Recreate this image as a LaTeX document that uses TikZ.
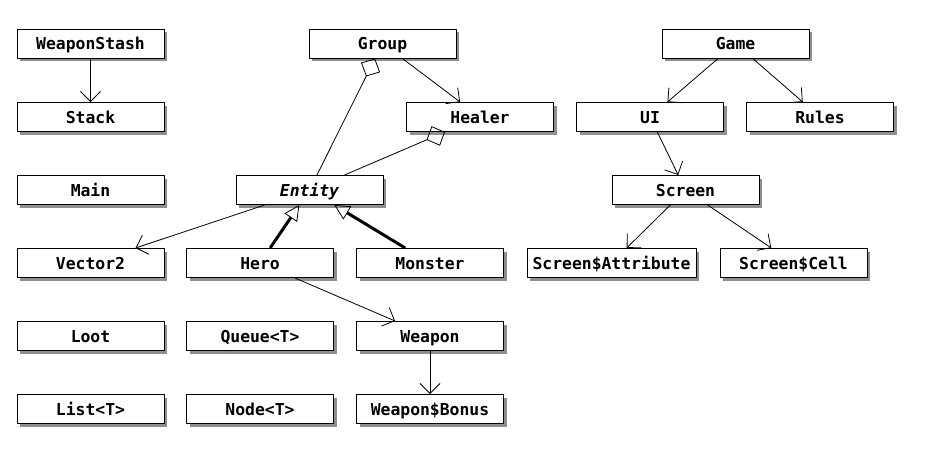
\documentclass[tikz,border=0pt]{standalone}
\usepackage{fontspec}
\setmonofont{DejaVu Sans Mono}
\usetikzlibrary{arrows.meta,shadows}
\tikzset{
  box/.style={draw, fill=white, line width=0.75pt, minimum width=110.25pt, minimum height=21.75pt, inner sep=0pt,
    text height=9pt, text depth=0pt,
    font=\fontsize{12.3}{14}\selectfont\ttfamily\bfseries,
    drop shadow={shadow xshift=2.25pt, shadow yshift=-2.25pt, fill=black!55, opacity=0.8}},
  dep/.style={line width=0.6pt, -{Straight Barb[length=7.5pt,width=15pt,line width=0.6pt]}},
  agg/.style={line width=0.6pt, -{Diamond[open,length=15pt,width=16pt,line width=0.6pt]}},
  gen/.style={line width=2.25pt, -{Triangle[open,length=11.5pt,width=11.5pt,line width=0.6pt]}},
}
\begin{document}
\begin{tikzpicture}[x=0.75pt, y=0.75pt, line join=round]
\useasboundingbox (0,0) rectangle (929,-450);
% left column
\foreach \n/\t/\y in {weaponstash/WeaponStash/43.5, stack/Stack/117, main/Main/190, vector/Vector2/263, loot/Loot/336, list/List<T>/409}
  \node[box] (\n) at (90.5,-\y) {\t};
% middle
\node[box] (group) at (382.5,-43.5) {Group};
\node[box] (healer) at (480,-117) {Healer};
\node[box] (entity) at (309.5,-190) {\itshape Entity};
\foreach \n/\t/\y in {hero/Hero/263, queue/Queue<T>/336, nodeT/Node<T>/409}
  \node[box] (\n) at (260,-\y) {\t};
\foreach \n/\t/\y in {monster/Monster/263, weapon/Weapon/336, bonus/Weapon\$Bonus/409}
  \node[box] (\n) at (430,-\y) {\t};
% right
\node[box] (game) at (735.5,-43.5) {Game};
\node[box] (ui) at (650,-117) {UI};
\node[box] (rules) at (820,-117) {Rules};
\node[box] (screen) at (685.5,-190) {Screen};
\node[box, minimum width=126.75pt] (attribute) at (611.5,-263) {Screen\$Attribute};
\node[box] (cell) at (793.5,-263) {Screen\$Cell};
% connectors
\draw[dep] (weaponstash) -- (stack);
\draw[dep] (group) -- (healer);
\draw[agg] (entity) -- (group);
\draw[agg] (entity) -- (healer);
\draw[dep] (entity) -- (vector);
\draw[gen] (hero) -- (entity);
\draw[gen] (monster) -- (entity);
\draw[dep] (hero) -- (weapon);
\draw[dep] (weapon) -- (bonus);
\draw[dep] (game) -- (ui);
\draw[dep] (game) -- (rules);
\draw[dep] (ui) -- (screen);
\draw[dep] (screen) -- (attribute);
\draw[dep] (screen) -- (cell);
\end{tikzpicture}
\end{document}
